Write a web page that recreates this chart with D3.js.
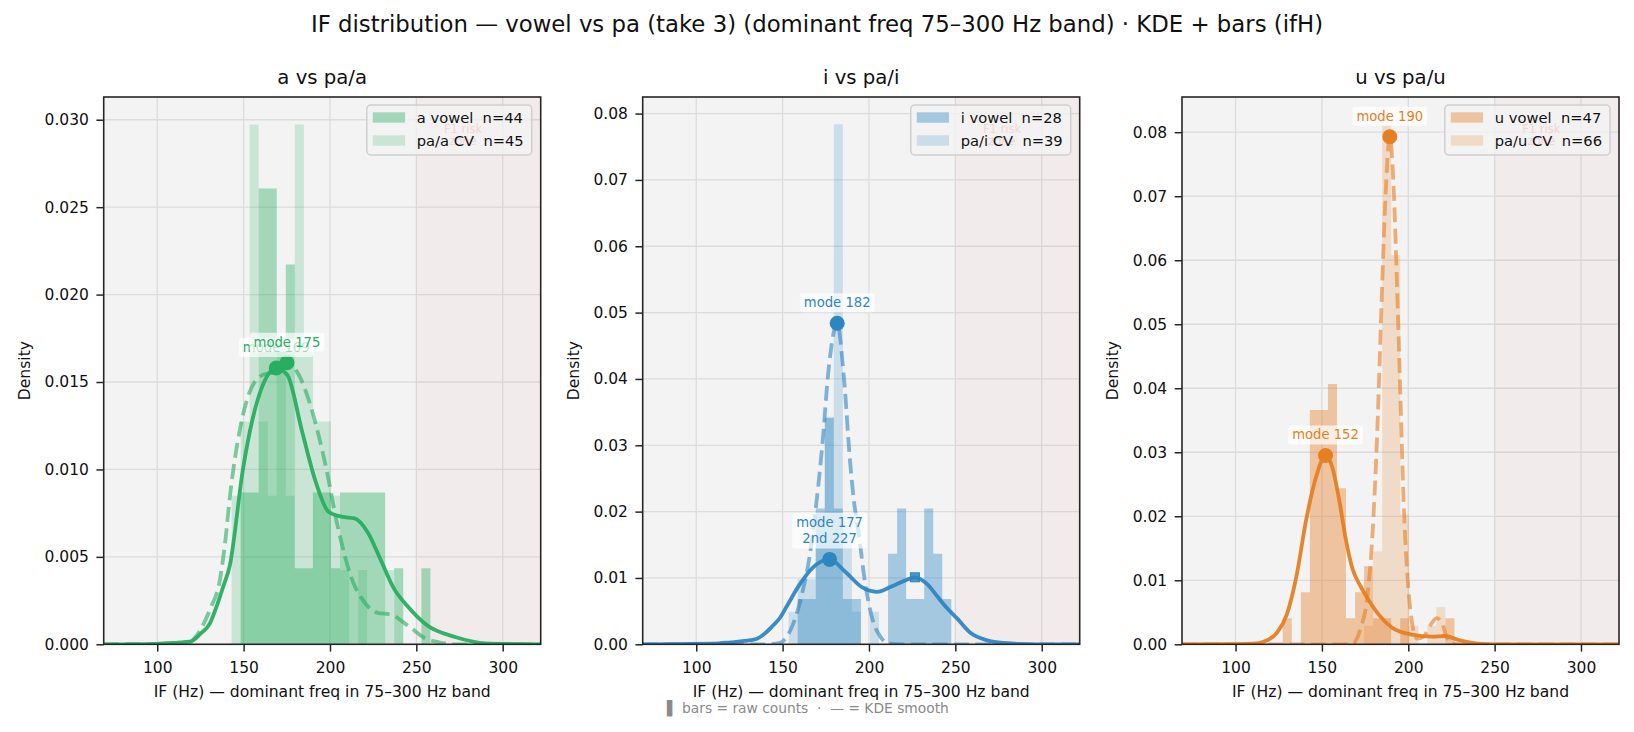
<!DOCTYPE html>
<html>
<head>
<meta charset="utf-8">
<script src="https://cdn.jsdelivr.net/npm/d3@7"></script>
<style>
  body { margin: 0; background: #fff; }
  svg text { font-family: "DejaVu Sans", sans-serif; }
</style>
</head>
<body>
<div id="chart"></div>
<script>
(function(){
  // ---------- data ----------
  const figTitle = "IF distribution — vowel vs pa (take 3) (dominant freq 75–300 Hz band) · KDE + bars (ifH)";
  const xLabel = "IF (Hz) — dominant freq in 75–300 Hz band";
  const footNote = "▌ bars = raw counts \u00a0·\u00a0 — = KDE smooth";

  const panelTitles = ["a vs pa/a", "i vs pa/i", "u vs pa/u"];
  const vowelLabels = ["a vowel", "i vowel", "u vowel"];
  const cvLabels = ["pa/a CV", "pa/i CV", "pa/u CV"];
  const vowelN = [44, 28, 47];
  const cvN = [45, 39, 66];
  const colors = ["#27ae60", "#2e86c1", "#e67e22"];

  // shared histogram bins: 43 equal bins from 75 to 300 Hz
  const binLo = 75, binHi = 300, binCount = 43;

  // raw counts per bin, starting at the given bin index
  const aVowelFirst = 14;
  const aVowelCounts = [2,2,6,6,4,5,1,1,2,2,1,2,2,2,2,2,0,1,0,0,1];
  const aCvFirst = 13;
  const aCvCounts = [2,3,7,3,2,4,2,7,4,3,3,2,1,0,1,0,0,1];
  const iVowelFirst = 16;
  const iVowelCounts = [1,1,3,5,3,1,1,0,0,0,2,3,1,1,3,2,1];
  const iCvFirst = 15;
  const iCvCounts = [1,2,2,4,7,16,4,1,0,1];
  const uVowelFirst = 10;
  const uVowelCounts = [1,0,2,9,9,10,6,1,2,3,1,1,0,1,0,0,0,0,1];
  const uCvFirst = 19;
  const uCvCounts = [1,5,28,21,7,1,0,1,2];

  // KDE curves [Hz, density]
  const aVowelKde = [[69,0],[100,0.00003],[112,0.0001],[119,0.00015],[125,0.0006],[130.5,0.0012],[134.5,0.0022],[138.2,0.0033],[142,0.0045],[149.6,0.0100],[155,0.0128],[161,0.0148],[168.9,0.0158],[175.3,0.0154],[183.8,0.0122],[191.4,0.0094],[199,0.0076],[206.7,0.0073],[214.3,0.0072],[221.9,0.0064],[229.5,0.0048],[237,0.0032],[244.7,0.0022],[256,0.0011],[273,0.0004],[290,0.00005],[322,0]];
  const aCvKde = [[69,0],[110,0.00002],[118,0.0001],[122.8,0.0005],[126.5,0.0011],[130.5,0.0020],[136.3,0.0037],[139.5,0.0060],[142,0.0084],[147.7,0.0122],[153.4,0.0144],[161,0.0154],[168.6,0.0156],[175.1,0.0161],[182,0.0154],[189.5,0.0134],[197.1,0.0104],[204.8,0.0066],[212.4,0.0038],[220,0.0024],[227.6,0.0018],[235.2,0.0017],[244.7,0.0011],[256,0.0003],[263.7,0.0001],[275,0],[322,0]];
  const iVowelKde = [[69,0],[110,0.0001],[120,0.0003],[128,0.0005],[134.8,0.0008],[140,0.0017],[144.3,0.0028],[148.5,0.0040],[151.9,0.0055],[159.8,0.0090],[167.2,0.0115],[177.2,0.0128],[186.4,0.0109],[195.9,0.0086],[204.5,0.0079],[213,0.0087],[220.7,0.0096],[226.6,0.0101],[234,0.0090],[239.6,0.0072],[245,0.0055],[251,0.0039],[258.9,0.0017],[268.4,0.0006],[278,0.0002],[295,0],[322,0]];
  const iCvKde = [[69,0],[140,0],[148.5,0.0002],[152,0.0010],[156,0.0030],[161.8,0.0082],[165.6,0.0132],[168.4,0.0187],[172.9,0.0298],[176.7,0.0416],[181.6,0.0484],[185.4,0.0405],[189.2,0.0271],[191.2,0.0218],[194,0.0168],[197.8,0.0092],[201.6,0.0042],[207.3,0.0009],[212,0.0001],[220,0],[322,0]];
  const uVowelKde = [[69,0],[100,0.00002],[110,0.0001],[116.2,0.0004],[123.9,0.0018],[129.6,0.0046],[135.3,0.0107],[141,0.0196],[146.8,0.0263],[152.1,0.0295],[156.3,0.0274],[160.1,0.0224],[163.9,0.0163],[167.7,0.0118],[172.5,0.0090],[177.3,0.0068],[183,0.0046],[190.6,0.0026],[202.1,0.0015],[213.5,0.0012],[221.2,0.0013],[228.8,0.0007],[240.3,0.0001],[250,0],[322,0]];
  const uCvKde = [[69,0],[160,0],[167.7,0.0001],[172.5,0.0026],[176.3,0.0074],[179.2,0.0168],[182.1,0.0336],[184.5,0.0531],[186.8,0.0698],[189.3,0.0793],[191.6,0.0709],[193.5,0.0559],[195.4,0.0391],[197.3,0.0224],[199.8,0.0096],[202.1,0.0035],[205,0.0009],[208.8,0.0012],[212.6,0.0029],[216.4,0.0041],[219.3,0.0035],[222.1,0.0012],[225,0.0001],[232,0],[322,0]];

  const vowelModes = [[168.9, 0.0158], [177.2, 0.0128], [152.1, 0.0295]];
  const cvModes = [[175.1, 0.0161], [181.6, 0.0484], [189.3, 0.0793]];
  const vowelModeText = [["mode 169"], ["mode 177", "2nd 227"], ["mode 152"]];
  const cvModeText = [["mode 175"], ["mode 182"], ["mode 190"]];
  const secondPeaks = [null, [226.6, 0.0101], null];

  const xTicks = [100, 150, 200, 250, 300];
  const yTicksA = [0, 0.005, 0.010, 0.015, 0.020, 0.025, 0.030];
  const yTicksI = [0, 0.01, 0.02, 0.03, 0.04, 0.05, 0.06, 0.07, 0.08];
  const yTicksU = [0, 0.01, 0.02, 0.03, 0.04, 0.05, 0.06, 0.07, 0.08];
  const yMax = [0.0313, 0.0825, 0.0855];
  const yFormat = [".3f", ".2f", ".2f"];
  const zoneStart = 250;

  const panels = [
    {vf: aVowelFirst, vc: aVowelCounts, cf: aCvFirst, cc: aCvCounts, vk: aVowelKde, ck: aCvKde, yt: yTicksA},
    {vf: iVowelFirst, vc: iVowelCounts, cf: iCvFirst, cc: iCvCounts, vk: iVowelKde, ck: iCvKde, yt: yTicksI},
    {vf: uVowelFirst, vc: uVowelCounts, cf: uCvFirst, cc: uCvCounts, vk: uVowelKde, ck: uCvKde, yt: yTicksU}
  ];

  // ---------- layout ----------
  const W = 1634, H = 732;
  const axLeft = [103.7, 642.7, 1182], axW = 437, axTop = 97, axBot = 644.3;
  const xDomain = [69, 322];
  const ink = "#262626";

  const svg = d3.select("#chart").append("svg")
    .attr("width", W).attr("height", H);

  svg.append("text")
    .attr("x", W / 2).attr("y", 31.7)
    .attr("text-anchor", "middle")
    .style("font-size", "22.8px")
    .attr("fill", "#111")
    .text(figTitle);

  const binW = (binHi - binLo) / binCount;
  const edge = k => binLo + k * binW;

  function histPath(first, counts, n, x, y) {
    const p = d3.path();
    counts.forEach((c, j) => {
      if (!c) return;
      const k = first + j;
      const x0 = x(edge(k)), x1 = x(edge(k + 1)), y0 = y(c / (n * binW));
      p.rect(x0, y0, x1 - x0, axBot - y0);
    });
    return p.toString();
  }

  function modeLabel(g, px, py, lines, col) {
    const lab = g.append("g");
    const box = lab.append("rect");
    const t = lab.append("text")
      .attr("text-anchor", "middle")
      .attr("fill", col)
      .style("font-size", "13.2px");
    lines.forEach((s, j) => {
      t.append("tspan")
        .attr("x", px)
        .attr("y", py - 16 - (lines.length - 1 - j) * 16.6)
        .text(s);
    });
    const bb = t.node().getBBox();
    box.attr("x", bb.x - 4).attr("y", bb.y - 2)
      .attr("width", bb.width + 8).attr("height", bb.height + 4)
      .attr("rx", 3)
      .attr("fill", "#fff").attr("fill-opacity", 0.7);
  }

  panels.forEach((p, i) => {
    const col = colors[i];
    const left = axLeft[i], right = left + axW;
    const x = d3.scaleLinear().domain(xDomain).range([left, right]);
    const y = d3.scaleLinear().domain([0, yMax[i]]).range([axBot, axTop]);
    const g = svg.append("g");

    svg.append("clipPath").attr("id", "clip" + i)
      .append("rect")
      .attr("x", left).attr("y", axTop)
      .attr("width", axW).attr("height", axBot - axTop);

    // panel title
    g.append("text")
      .attr("x", (left + right) / 2).attr("y", 84.4)
      .attr("text-anchor", "middle")
      .style("font-size", "19.7px")
      .attr("fill", "#111")
      .text(panelTitles[i]);

    // background + grid
    g.append("rect")
      .attr("x", left).attr("y", axTop)
      .attr("width", axW).attr("height", axBot - axTop)
      .attr("fill", "#f3f3f3");

    g.append("g").selectAll("line").data(xTicks).join("line")
      .attr("x1", d => x(d)).attr("x2", d => x(d))
      .attr("y1", axTop).attr("y2", axBot)
      .attr("stroke", "#dcdcdc").attr("stroke-width", 1.3);
    g.append("g").selectAll("line").data(p.yt).join("line")
      .attr("x1", left).attr("x2", right)
      .attr("y1", d => y(d)).attr("y2", d => y(d))
      .attr("stroke", "#dcdcdc").attr("stroke-width", 1.3);

    // F1 risk zone
    g.append("rect")
      .attr("x", x(zoneStart)).attr("y", axTop)
      .attr("width", right - x(zoneStart)).attr("height", axBot - axTop)
      .attr("fill", "#e74c3c").attr("fill-opacity", 0.045);

    const plot = g.append("g").attr("clip-path", `url(#clip${i})`);

    // bars
    plot.append("path")
      .attr("d", histPath(p.vf, p.vc, vowelN[i], x, y))
      .attr("fill", col).attr("fill-opacity", 0.4);
    plot.append("path")
      .attr("d", histPath(p.cf, p.cc, cvN[i], x, y))
      .attr("fill", col).attr("fill-opacity", 0.2);

    // KDE lines
    const line = d3.line()
      .x(d => x(d[0])).y(d => y(d[1]))
      .curve(d3.curveMonotoneX);
    plot.append("path")
      .attr("d", line(p.vk))
      .attr("fill", "none")
      .attr("stroke", col).attr("stroke-width", 3.8)
      .attr("stroke-opacity", 0.95)
      .attr("stroke-linejoin", "round");
    plot.append("path")
      .attr("d", line(p.ck))
      .attr("fill", "none")
      .attr("stroke", col).attr("stroke-width", 3.8)
      .attr("stroke-opacity", 0.6)
      .attr("stroke-dasharray", "15,6.5");

    // mode markers
    [vowelModes[i], cvModes[i]].forEach(m => {
      g.append("circle")
        .attr("cx", x(m[0])).attr("cy", y(m[1]))
        .attr("r", 7.5).attr("fill", col);
    });
    if (secondPeaks[i]) {
      const s = secondPeaks[i];
      g.append("rect")
        .attr("x", x(s[0]) - 4.5).attr("y", y(s[1]) - 4.5)
        .attr("width", 9).attr("height", 9)
        .attr("fill", col).attr("fill-opacity", 0.85)
        .attr("stroke", col).attr("stroke-width", 1);
    }
    modeLabel(g, x(vowelModes[i][0]), y(vowelModes[i][1]), vowelModeText[i], col);
    modeLabel(g, x(cvModes[i][0]), y(cvModes[i][1]), cvModeText[i], col);

    // F1 risk label (sits under the legend)
    const f1 = g.append("text")
      .attr("text-anchor", "middle")
      .attr("fill", "#e74c3c").attr("fill-opacity", 0.9)
      .style("font-size", "11.5px");
    f1.append("tspan").attr("x", x(277)).attr("y", axTop + 36).text("F1 risk");
    f1.append("tspan").attr("x", x(277)).attr("y", axTop + 48).text("zone");

    // spines
    g.append("rect")
      .attr("x", left).attr("y", axTop)
      .attr("width", axW).attr("height", axBot - axTop)
      .attr("fill", "none").attr("stroke", ink).attr("stroke-width", 1.6);

    // axes
    const xAxis = g.append("g")
      .attr("transform", `translate(0,${axBot})`)
      .call(d3.axisBottom(x).tickValues(xTicks).tickFormat(d3.format("d"))
        .tickSize(7.3).tickPadding(10));
    const yAxis = g.append("g")
      .attr("transform", `translate(${left},0)`)
      .call(d3.axisLeft(y).tickValues(p.yt).tickFormat(d3.format(yFormat[i]))
        .tickSize(7.3).tickPadding(7.5));
    [xAxis, yAxis].forEach(a => {
      a.select(".domain").remove();
      a.selectAll(".tick line").attr("stroke", ink).attr("stroke-width", 1.5);
      a.selectAll(".tick text")
        .attr("fill", "#111")
        .style("font-family", '"DejaVu Sans", sans-serif')
        .style("font-size", "15.5px");
    });

    const yb = yAxis.node().getBBox();
    g.append("text")
      .attr("transform", `translate(${left + yb.x - 20},${(axTop + axBot) / 2}) rotate(-90)`)
      .attr("text-anchor", "middle").attr("dy", "0.35em")
      .style("font-size", "15.6px")
      .attr("fill", "#111")
      .text("Density");

    g.append("text")
      .attr("x", (left + right) / 2).attr("y", 697)
      .attr("text-anchor", "middle")
      .style("font-size", "15.6px")
      .attr("fill", "#111")
      .text(xLabel);

    // legend
    const lg = g.append("g");
    const lbox = lg.append("rect");
    const rows = [
      {label: `${vowelLabels[i]}\u00a0 n=${vowelN[i]}`, op: 0.4},
      {label: `${cvLabels[i]}\u00a0 n=${cvN[i]}`, op: 0.2}
    ];
    let maxW = 0;
    const texts = rows.map(r => {
      const t = lg.append("text")
        .style("font-size", "14.7px")
        .attr("fill", "#111")
        .text(r.label);
      maxW = Math.max(maxW, t.node().getComputedTextLength());
      return t;
    });
    const boxW = 50 + maxW + 8, boxH = 50;
    const bx = right - 9 - boxW, by = axTop + 8;
    lbox.attr("x", bx).attr("y", by).attr("width", boxW).attr("height", boxH)
      .attr("rx", 4)
      .attr("fill", "#f3f3f3").attr("fill-opacity", 0.8)
      .attr("stroke", "#cfcfcf").attr("stroke-width", 1.5);
    rows.forEach((r, j) => {
      const cy = by + 12.5 + j * 23;
      lg.append("rect")
        .attr("x", bx + 6).attr("y", cy - 5.2)
        .attr("width", 32.3).attr("height", 10.4)
        .attr("fill", col).attr("fill-opacity", r.op);
      texts[j].attr("x", bx + 50).attr("y", cy + 5.4);
    });
  });

  // footnote
  svg.append("text")
    .attr("x", 667).attr("y", 713)
    .style("font-size", "13.8px")
    .attr("fill", "#8a8a8a")
    .text(footNote);
})();
</script>
</body>
</html>
